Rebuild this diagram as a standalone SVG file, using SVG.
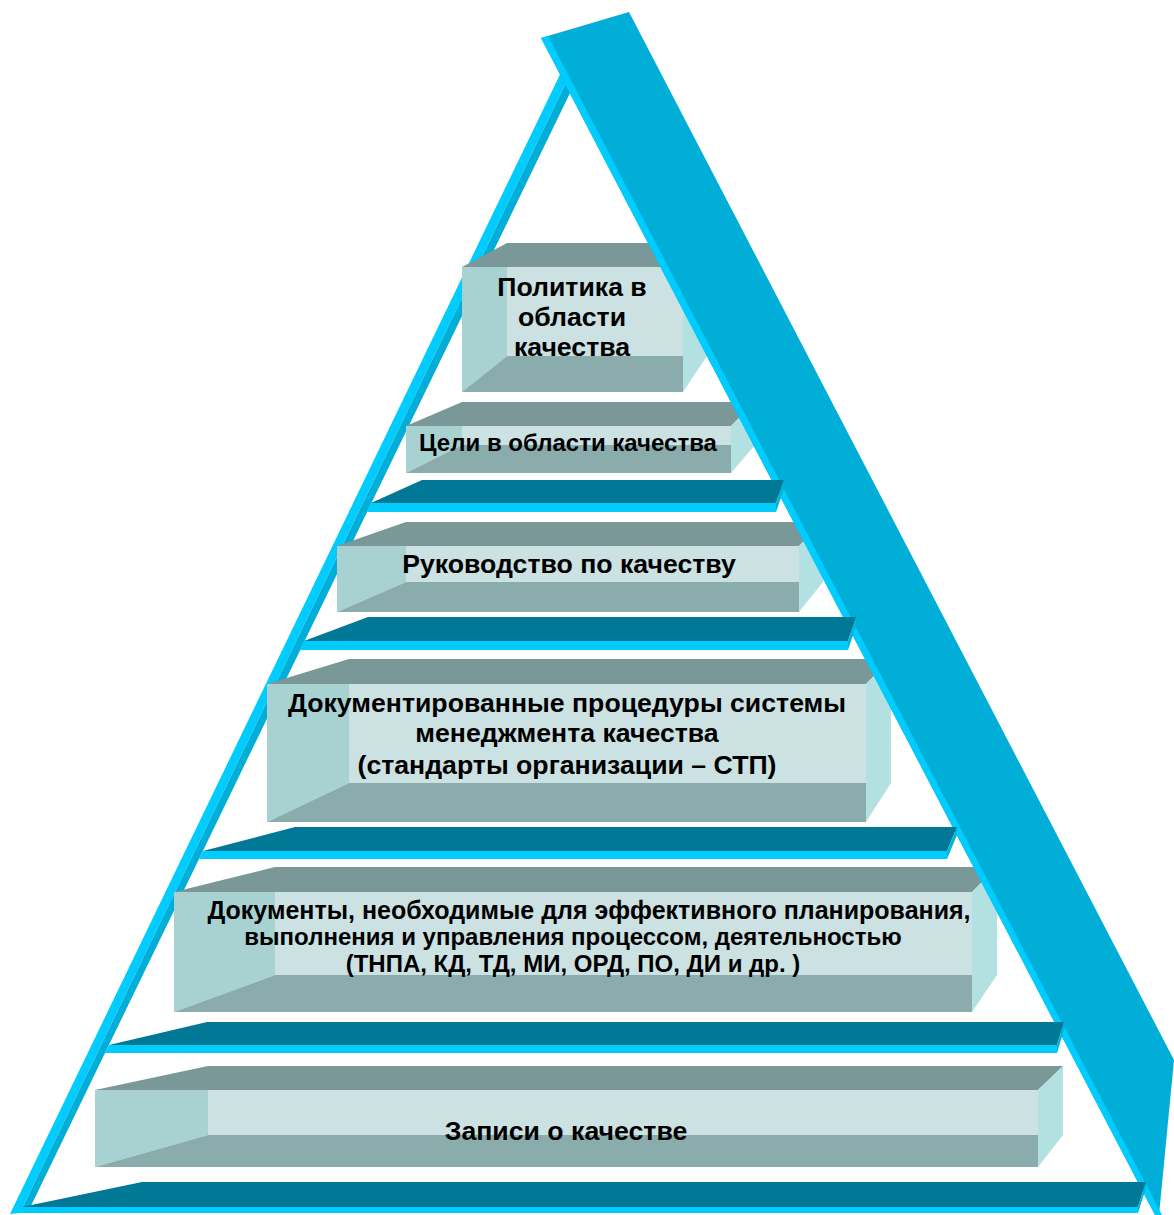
<svg xmlns="http://www.w3.org/2000/svg" width="1174" height="1215" viewBox="0 0 1174 1215">
<style>
.bg{fill:#ffffff}
.lt{fill:#00CCFF}
.dk{fill:#00AED8}
.tl{fill:#007896}
.rf2{fill:#00B4DC}
.bt{fill:#7B9898}
.bl{fill:#A8D2D2}
.bf{fill:#CCE1E1}
.bb{fill:#8AACAC}
.br{fill:#B3E1E1}
text{font-family:"Liberation Sans",Arial,sans-serif;font-weight:bold;fill:#000;text-anchor:middle}
</style>
<rect class="bg" x="0" y="0" width="1174" height="1215"/>
<g id="leg">
<polygon class="lt" points="567,60 577,60 20,1213 10,1214"/>
<polygon class="dk" points="577,60 586,60 28,1212 20,1213"/>
</g>
<g id="box1">
<polygon class="bt" points="462,267 507,243 707,243 683,267"/>
<polygon class="bl" points="462,267 507,267 507,356 462,392"/>
<rect class="bf" x="507" y="267" width="176" height="89"/>
<polygon class="bb" points="462,392 507,356 683,356 683,392"/>
<polygon class="br" points="683,267 707,243 707,356 683,392"/>
<text x="572" y="296" font-size="26.67">Политика в</text>
<text x="572" y="326" font-size="26.67">области</text>
<text x="572" y="356" font-size="26.67">качества</text>
</g>
<g id="box2">
<polygon class="bt" points="406,426 462,402 755,402 731,426"/>
<polygon class="bl" points="406,426 462,426 462,445 406,473"/>
<rect class="bf" x="462" y="426" width="269" height="19"/>
<polygon class="bb" points="406,473 462,445 731,445 731,473"/>
<polygon class="br" points="731,426 755,402 755,445 731,473"/>
<text x="568" y="451" font-size="24">Цели в области качества</text>
</g>
<g id="box3">
<polygon class="bt" points="337,546 406,522 823,522 799,546"/>
<polygon class="bl" points="337,546 406,546 406,582 337,612"/>
<rect class="bf" x="406" y="546" width="393" height="36"/>
<polygon class="bb" points="337,612 406,582 799,582 799,612"/>
<polygon class="br" points="799,546 823,522 823,582 799,612"/>
<text x="569" y="573" font-size="26.67">Руководство по качеству</text>
</g>
<g id="box4">
<polygon class="bt" points="267,684 349,659 891,659 866,684"/>
<polygon class="bl" points="267,684 349,684 349,783 267,822"/>
<rect class="bf" x="349" y="684" width="517" height="99"/>
<polygon class="bb" points="267,822 349,783 866,783 866,822"/>
<polygon class="br" points="866,684 891,659 891,783 866,822"/>
<text x="567" y="712" font-size="26.67">Документированные процедуры системы</text>
<text x="567" y="742" font-size="26.67">менеджмента качества</text>
<text x="567" y="774" font-size="26.67">(стандарты организации – СТП)</text>
</g>
<g id="box5">
<polygon class="bt" points="174,892 275,867 997,867 972,892"/>
<polygon class="bl" points="174,892 275,892 275,975 174,1012"/>
<rect class="bf" x="275" y="892" width="697" height="83"/>
<polygon class="bb" points="174,1012 275,975 972,975 972,1012"/>
<polygon class="br" points="972,892 997,867 997,975 972,1012"/>
<text x="589" y="919" font-size="25">Документы, необходимые для эффективного планирования,</text>
<text x="573" y="945" font-size="24">выполнения и управления процессом, деятельностью</text>
<text x="573" y="972" font-size="24">(ТНПА, КД, ТД, МИ, ОРД, ПО, ДИ и др. )</text>
</g>
<g id="box6">
<polygon class="bt" points="95,1090 208,1066 1063,1066 1038,1090"/>
<polygon class="bl" points="95,1090 208,1090 208,1135 95,1167"/>
<rect class="bf" x="208" y="1090" width="830" height="45"/>
<polygon class="bb" points="95,1167 208,1135 1038,1135 1038,1167"/>
<polygon class="br" points="1038,1090 1063,1066 1063,1135 1038,1167"/>
<text x="566" y="1140" font-size="26.67">Записи о качестве</text>
</g>
<g id="band">
<polygon class="dk" points="541,38 629,12 1174,1060 1159,1215 1155,1215"/>
<polygon class="lt" points="541,38 548,36 1162,1215 1155,1215"/>
</g>
<g id="shelves">
<polygon class="tl" points="371,503 422,480 784,480 776,503"/>
<polygon class="lt" points="371,503 776,503 776,512 367,512"/>
<polygon class="rf2" points="776,503 784,480 784,489 776,512"/>
<polygon class="tl" points="304,641 368,617 856,617 848,641"/>
<polygon class="lt" points="304,641 848,641 848,650 300,650"/>
<polygon class="rf2" points="848,641 856,617 856,626 848,650"/>
<polygon class="tl" points="203,851 295,827 957,827 947,851"/>
<polygon class="lt" points="203,851 947,851 947,859 199,859"/>
<polygon class="rf2" points="947,851 957,827 957,835 947,859"/>
<polygon class="tl" points="109,1045 207,1022 1064,1022 1057,1045"/>
<polygon class="lt" points="109,1045 1057,1045 1057,1053 105,1053"/>
<polygon class="rf2" points="1057,1045 1064,1022 1064,1030 1057,1053"/>
<polygon class="tl" points="22,1207 142,1182 1146,1182 1138,1207"/>
<polygon class="lt" points="22,1207 1138,1207 1138,1213 12,1213"/>
<polygon class="rf2" points="1138,1207 1146,1182 1146,1188 1138,1213"/>
</g>
</svg>
